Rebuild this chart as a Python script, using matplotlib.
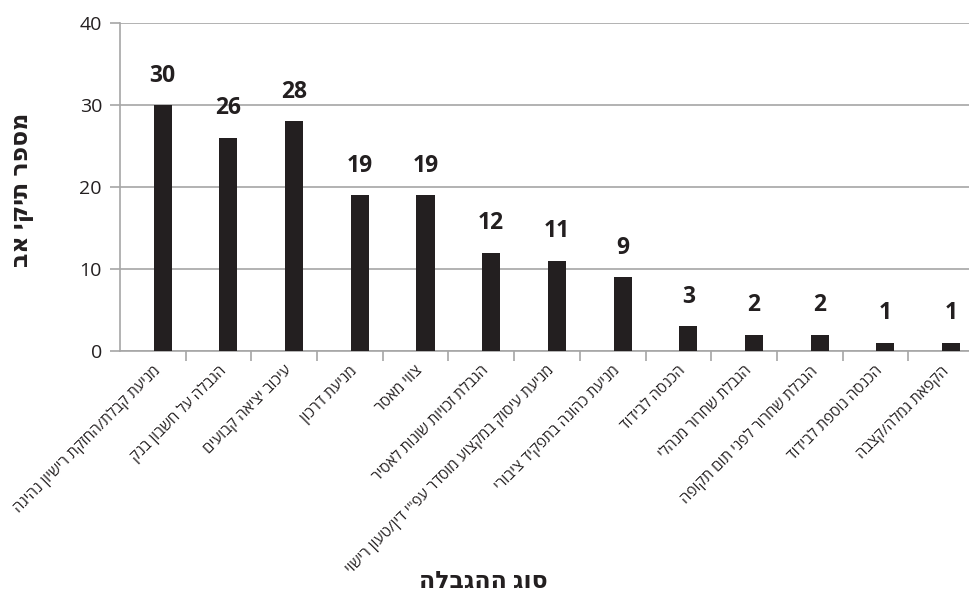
import numpy as np
import matplotlib
matplotlib.use('Agg')
import matplotlib.pyplot as plt

plt.rcParams['font.family'] = ['Open Sans', 'DejaVu Sans']

#%% data
categories = ['מניעת קבלת/החזקת רישיון נהיגה',
              'הגבלה על חשבון בנק',
              'עיכוב יציאה קבועים',
              'מניעת דרכון',
              'צווי מאסר',
              'הגבלת זכויות שונות לאסיר',
              'מניעת עיסוק במקצוע מוסדר עפ"י דין/טעון רישוי',
              'מניעת כהונה בתפקיד ציבורי',
              'הכנסה לבידוד',
              'הגבלת שחרור מנהלי',
              'הגבלת שחרור לפני תום תקופה',
              'הכנסה נוספת לבידוד',
              'הקפאת גמלה/קצבה']
values = [30, 26, 28, 19, 19, 12, 11, 9, 3, 2, 2, 1, 1]
y_ticks = [0, 10, 20, 30, 40]
x_title = 'סוג ההגבלה'
y_title = 'מספר תיקי אב'

# matplotlib draws left-to-right, so flip hebrew to visual order
def rtl(s):
    return s[::-1]

#%% figure
fig = plt.figure(figsize=(9.69, 5.94), dpi=100)
ax = fig.add_axes([120/969, (594-351)/594, 854/969, 328/594])

grey = '#a6a6a6'
x = np.arange(len(values))
ax.bar(x + 0.15, values, width=0.275, color='#231f20', zorder=3)

for xi, v in zip(x, values):
    ax.annotate(str(v), (xi + 0.15, v), xytext=(0, 12.5), textcoords='offset points',
                ha='center', va='bottom', fontsize=16.5, fontweight='bold', color='#231f20')

ax.set_xlim(-0.5, len(values) - 0.5)
ax.set_ylim(0, 40)
ax.set_yticks(y_ticks)
ax.yaxis.grid(True, color=grey, linewidth=1.2, zorder=0)
ax.set_axisbelow(True)

ax.set_xticks(x)
ax.set_xticklabels([rtl(c) for c in categories], rotation=45, ha='right', va='top',
                   rotation_mode='anchor', fontsize=11, color='#231f20')
ax.set_xticks(np.arange(len(values)) + 0.5, minor=True)
ax.tick_params(axis='x', which='major', length=0, pad=9)
ax.tick_params(axis='x', which='minor', length=7, color=grey, width=1.2)
ax.tick_params(axis='y', length=7, color=grey, width=1.2, labelsize=14, labelcolor='#231f20', pad=6)

for s in ['top', 'right']:
    ax.spines[s].set_visible(False)
for s in ['left', 'bottom']:
    ax.spines[s].set_color(grey)
    ax.spines[s].set_linewidth(1.2)

fig.text(22/969, 1 - 190/594, rtl(y_title), rotation=90, ha='center', va='center',
         fontsize=17, fontweight='bold', color='#231f20')
fig.text(483/969, 1 - 582/594, rtl(x_title), ha='center', va='center',
         fontsize=17, fontweight='bold', color='#231f20')

fig.savefig('out.png', dpi=100)
